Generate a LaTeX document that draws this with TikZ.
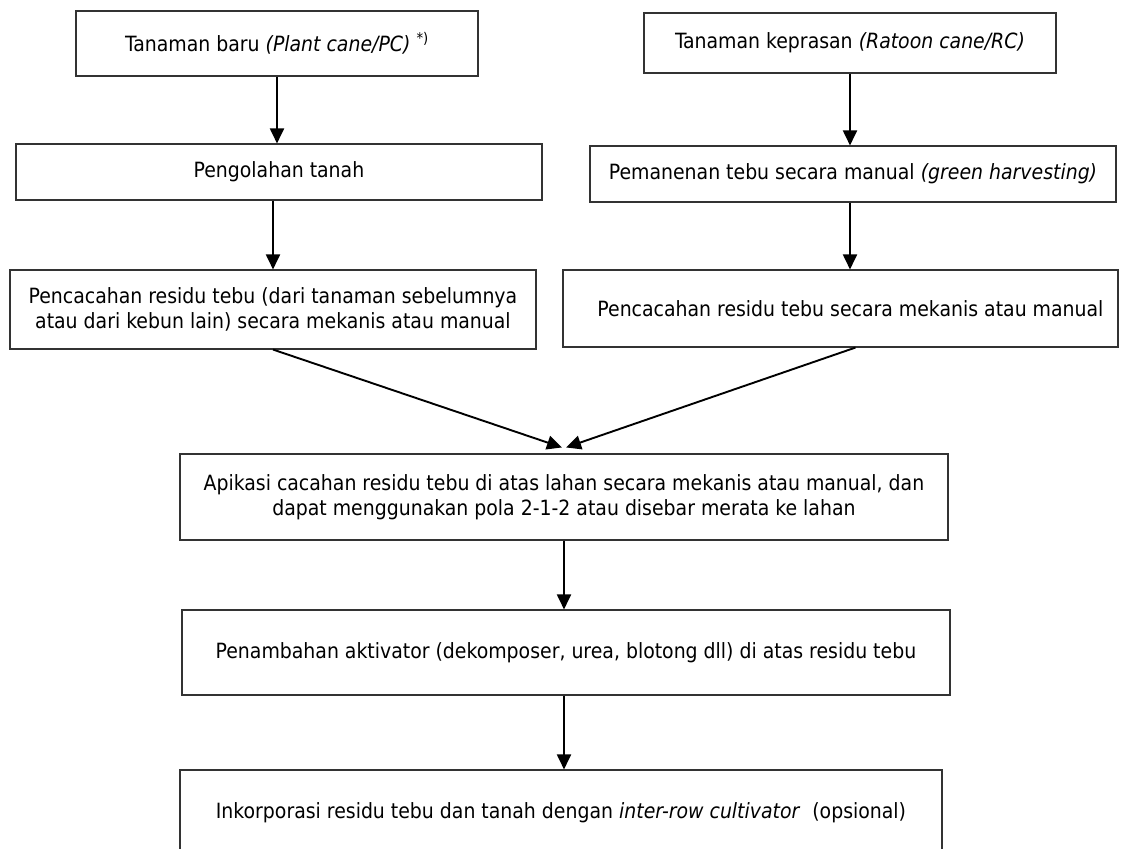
\documentclass[tikz,border=0pt]{standalone}
\usepackage{fontspec}
\setmainfont{DejaVu Sans Condensed}
\usetikzlibrary{arrows.meta}

\begin{document}
\begin{tikzpicture}[x=1pt,y=-1pt,
    box/.style={draw=black!80, line width=1.1pt, inner sep=0pt, align=center,
      font=\fontsize{21}{25.5}\selectfont},
    arr/.style={line width=1.9pt, -{Triangle[length=15pt,width=14pt]}}]
    \fill [white] (0,0) rectangle (1133,849);
    \useasboundingbox (0,0) rectangle (1133,849);
    \node [box, minimum width=402pt, minimum height=65pt] (pc) at (277,43.5)
    {Tanaman baru \textit{(Plant cane/PC)} \textsuperscript{*)}};
    \node [box, minimum width=526pt, minimum height=56pt] (olah) at (279,172)
    {Pengolahan tanah};
    \node [box, minimum width=526pt, minimum height=79pt] (cacahL) at (273,309.5)
    {Pencacahan residu tebu (dari tanaman sebelumnya\\atau dari kebun lain) secara mekanis atau manual};
    \node [box, minimum width=412pt, minimum height=60pt] (rc) at (850,43)
    {Tanaman keprasan \textit{(Ratoon cane/RC)}};
    \node [box, minimum width=526pt, minimum height=56pt] (panen) at (853,174)
    {Pemanenan tebu secara manual \textit{(green harvesting)}};
    \node [box, minimum width=555pt, minimum height=77pt] (cacahR) at (840.5,308.5)
    {\hspace*{20pt}Pencacahan residu tebu secara mekanis atau manual};
    \node [box, minimum width=768pt, minimum height=86pt] (apik) at (564,497)
    {Apikasi cacahan residu tebu di atas lahan secara mekanis atau manual, dan\\dapat menggunakan pola 2-1-2 atau disebar merata ke lahan};
    \node [box, minimum width=768pt, minimum height=85pt] (tambah) at (566,652.5)
    {Penambahan aktivator (dekomposer, urea, blotong dll) di atas residu tebu};
    \node [box, minimum width=762pt, minimum height=86pt] (inkor) at (561,813)
    {Inkorporasi residu tebu dan tanah dengan \textit{inter-row cultivator}\ \ (opsional)};
    \draw [arr] (pc.south) -- (pc.south |- olah.north);
    \draw [arr] (cacahL |- olah.south) -- (cacahL.north);
    \draw [arr] (rc.south) -- (rc.south |- panen.north);
    \draw [arr] (rc |- panen.south) -- (rc |- cacahR.north);
    \draw [arr] (cacahL.south) -- ([shift={(-2pt,6pt)}]apik.north);
    \draw [arr] ([xshift=15pt]cacahR.south) -- ([shift={(2pt,6pt)}]apik.north);
    \draw [arr] (apik.south) -- (apik.south |- tambah.north);
    \draw [arr] (apik.south |- tambah.south) -- (apik.south |- inkor.north);
  \end{tikzpicture}
\end{document}
